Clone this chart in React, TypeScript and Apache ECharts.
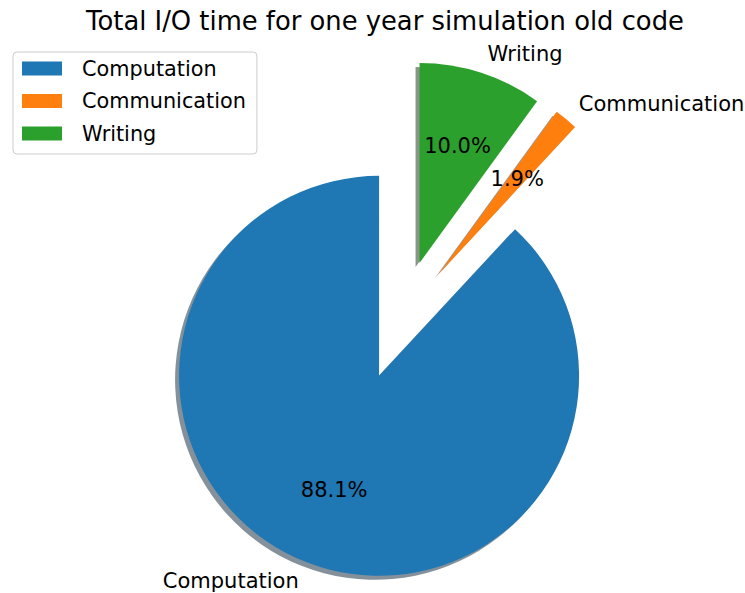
import React, { useEffect, useRef } from 'react';
import * as echarts from 'echarts';

const categories = ['Computation', 'Communication', 'Writing'];
const values = [88.1, 1.9, 10.0];
const sliceColors = ['#1f77b4', '#ff7f0e', '#2ca02c'];
const titleText = 'Total I/O time for one year simulation old code';

function shadowOf(hex: string): string {
  const n = parseInt(hex.slice(1), 16);
  const r = Math.round(((n >> 16) & 255) * 0.3);
  const g = Math.round(((n >> 8) & 255) * 0.3);
  const b = Math.round((n & 255) * 0.3);
  return `rgba(${r},${g},${b},0.5)`;
}

export default function App() {
  const ref = useRef<HTMLDivElement>(null);
  useEffect(() => {
    document.body.style.margin = '0';
    const chart = echarts.init(ref.current!, null, { renderer: 'svg' });
    const font = 'DejaVu Sans';
    const C = [401, 320];
    const R = 200;
    const OFF = 60;
    const base: any = {
      type: 'pie',
      startAngle: 90,
      clockwise: false,
      selectedMode: 'multiple',
      selectedOffset: OFF,
      avoidLabelOverlap: false,
      emphasis: { disabled: true },
      animation: false,
      silent: true,
      percentPrecision: 1,
    };
    chart.setOption({
      animation: false,
      title: {
        text: titleText,
        left: 380,
        top: 3,
        textAlign: 'center',
        textStyle: { fontFamily: font, fontSize: 25.8, fontWeight: 'normal', color: '#000' },
      },
      legend: {
        orient: 'vertical',
        left: 13,
        top: 52,
        padding: [6, 11, 10, 9],
        itemWidth: 40,
        itemHeight: 14,
        itemGap: 11.5,
        icon: 'rect',
        borderColor: '#cccccc',
        borderWidth: 1,
        borderRadius: 4,
        backgroundColor: 'rgba(255,255,255,0.8)',
        selectedMode: false,
        data: categories,
        z: 10,
        textStyle: { fontFamily: font, fontSize: 20.8, color: '#000', lineHeight: 20, padding: [0, 0, 0, 15] },
      },
      series: [
        {
          ...base,
          name: 'main',
          z: 3,
          center: C,
          radius: R,
          label: {
            show: true,
            position: 'outside',
            alignTo: 'none',
            distanceToLabelLine: 0,
            fontFamily: font,
            fontSize: 21,
            color: '#000',
            formatter: '{b}',
          },
          labelLine: { show: false, length: 20, length2: 0 },
          data: categories.map((name, i) => ({
            name,
            value: values[i],
            selected: true,
            itemStyle: { color: sliceColors[i], borderWidth: 0 },
          })),
        },
        {
          ...base,
          name: 'shadow',
          z: 1,
          center: [C[0] - 4, C[1] + 4],
          radius: R,
          label: { show: false },
          labelLine: { show: false },
          data: categories.map((name, i) => ({
            name,
            value: values[i],
            selected: true,
            itemStyle: { color: shadowOf(sliceColors[i]), borderWidth: 0 },
          })),
        },
        {
          ...base,
          name: 'pct',
          z: 4,
          center: C,
          radius: R * 1.2,
          label: {
            show: true,
            position: 'inside',
            fontFamily: font,
            fontSize: 21,
            color: '#000',
            formatter: (p: any) => p.percent.toFixed(1) + '%',
          },
          labelLine: { show: false },
          data: categories.map((name, i) => ({
            name,
            value: values[i],
            selected: true,
            itemStyle: { color: 'rgba(0,0,0,0)', borderWidth: 0 },
          })),
        },
      ],
    });
    return () => chart.dispose();
  }, []);
  return <div ref={ref} style={{ width: 745, height: 593 }} />;
}
